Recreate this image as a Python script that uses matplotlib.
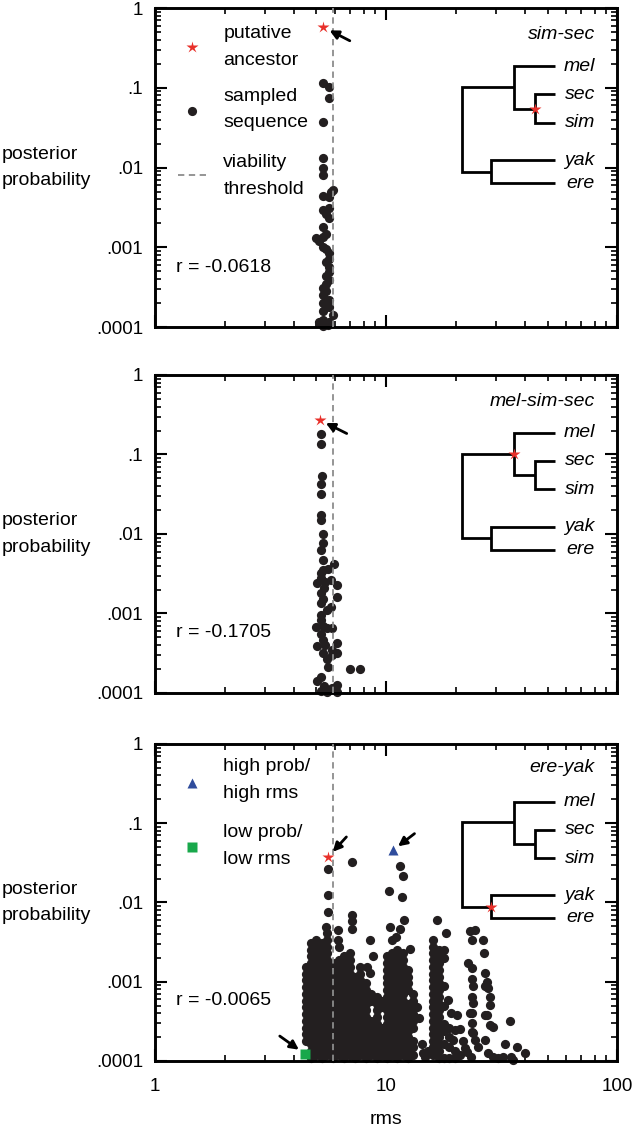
import matplotlib
matplotlib.use("Agg")
import matplotlib.pyplot as plt
import numpy as np
from matplotlib.ticker import NullFormatter

plt.rcParams["font.family"] = ["Liberation Sans", "DejaVu Sans"]

RED = "#e8302a"
BLUE = "#2f4c9c"
GREEN = "#18a84b"
DOT = "#231f20"
DASH = "#8c8c8c"

# labels
clades = ["sim-sec", "mel-sim-sec", "ere-yak"]
r_values = ["r = -0.0618", "r = -0.1705", "r = -0.0065"]
species = ["mel", "sec", "sim", "yak", "ere"]
y_ticks = [1e-4, 1e-3, 1e-2, 1e-1, 1]
y_tick_labels = [".0001", ".001", ".01", ".1", "1"]
x_ticks = [1, 10, 100]
x_tick_labels = ["1", "10", "100"]

viability_rms = 5.87

# putative ancestor of each clade (rms, posterior probability)
ancestor_rms = [5.32, 5.18, 5.61]
ancestor_p = [0.58, 0.27, 0.0375]

# highlighted ere-yak sequences
high_rms, high_p = 10.7, 0.0455
low_rms, low_p = 4.48, 1.21e-4

# sim-sec sampled sequences
simsec_rms = [
    5.32, 5.68, 5.68, 5.32, 5.32, 5.32, 5.32, 5.91,
    5.80, 5.32, 5.68, 5.32, 5.68, 5.68, 5.50, 5.32,
    4.98, 5.32, 5.15, 5.32, 5.50, 5.68, 5.68, 5.50,
    5.68, 5.68, 5.50, 5.68, 5.32, 5.50, 5.32, 5.68,
    5.32, 5.50, 5.68, 5.32, 5.91, 5.50, 5.32, 5.68,
    5.15, 5.32, 5.60,
]
simsec_p = [
    0.114, 0.101, 0.074, 0.037, 0.013, 0.0098, 0.0081, 0.0052,
    0.0050, 0.0044, 0.0043, 0.0029, 0.0031, 0.0023, 0.0026, 0.0018,
    0.0013, 0.00135, 0.0012, 0.00102, 0.00145, 0.00084, 0.00072, 0.00095,
    0.00057, 0.00049, 0.00065, 0.00039, 0.00031, 0.00044, 0.00025, 0.00022,
    0.0002, 0.00035, 0.00018, 0.00016, 0.00014, 0.00028, 0.000123, 0.000117,
    0.000117, 0.000103, 0.000105,
]

# mel-sim-sec sampled sequences
mss_rms = [
    5.22, 5.22, 5.27, 5.22, 5.22, 5.22, 5.22, 5.32,
    5.32, 5.22, 5.32, 5.96, 5.63, 5.22, 5.22, 5.76,
    5.01, 6.12, 5.39, 5.22, 6.16, 5.22, 5.76, 5.22,
    5.22, 4.98, 5.53, 5.82, 5.22, 6.16, 5.44, 5.01,
    6.16, 5.82, 5.53, 5.63, 6.98, 7.72, 5.22, 5.01,
    6.12, 5.39, 5.82, 5.22, 5.53, 6.16, 5.32, 5.44,
    5.32, 5.53, 5.32, 5.32, 5.82, 5.32,
]
mss_p = [
    0.181, 0.136, 0.054, 0.043, 0.032, 0.0173, 0.0152, 0.0099,
    0.0076, 0.0063, 0.0047, 0.0042, 0.0036, 0.0032, 0.0028, 0.0026,
    0.0024, 0.0023, 0.0021, 0.0018, 0.0016, 0.00134, 0.0012, 0.00096,
    0.00083, 0.00068, 0.00065, 0.00065, 0.00056, 0.00042, 0.0004, 0.00039,
    0.00032, 0.0003, 0.00027, 0.00021, 0.0002, 0.0002, 0.00016, 0.00014,
    0.000126, 0.000122, 0.000115, 0.000105, 0.000102, 0.000102, 0.0035, 0.0025,
    0.0015, 0.0011, 0.0007, 0.00046, 0.00035, 0.00032,
]

# ere-yak: the dense part of the cloud, read as vertical bands of overlapping
# dots (rms of the band, log10 posterior of the dots stacked in it)
band_rms = [4.50, 4.73, 4.98, 5.28, 5.57, 5.90, 6.23, 6.59, 6.97, 7.34, 7.73, 8.17,
            8.65, 9.13, 9.60, 10.1, 10.6, 11.2, 11.8, 12.4, 13.1, 16.0, 16.9]
band_logp = [
    [-3.75, -3.66, -3.58, -3.49, -3.41, -3.32, -3.24, -3.15, -3.07, -2.98, -2.90, -2.81],
    [-3.96, -3.87, -3.79, -3.70, -3.62, -3.53, -3.45, -3.36, -3.28, -3.19, -3.11, -3.02, -2.94, -2.85, -2.77, -2.68, -2.60],
    [-3.92, -3.83, -3.75, -3.66, -3.58, -3.49, -3.41, -3.32, -3.24, -3.15, -3.07, -2.98, -2.90, -2.81, -2.73, -2.64, -2.56],
    [-3.96, -3.87, -3.79, -3.70, -3.62, -3.53, -3.45, -3.36, -3.28, -3.19, -3.11, -3.02, -2.94, -2.85, -2.77, -2.68, -2.60, -2.51],
    [-3.92, -3.83, -3.75, -3.66, -3.58, -3.49, -3.41, -3.32, -3.24, -3.15, -3.07, -2.98, -2.90, -2.81, -2.73, -2.64, -2.56, -2.47, -2.39],
    [-3.96, -3.87, -3.79, -3.70, -3.62, -3.53, -3.45, -3.36, -3.28, -3.19, -3.11, -3.02, -2.94, -2.85, -2.77],
    [-3.92, -3.83, -3.75, -3.66, -3.58, -3.49, -3.41, -3.32, -3.24, -3.15, -3.07, -2.98, -2.90, -2.81, -2.73],
    [-3.96, -3.87, -3.79, -3.70, -3.62, -3.53, -3.45, -3.36, -3.28, -3.19, -3.11, -3.02, -2.94, -2.85, -2.77, -2.68],
    [-3.92, -3.83, -3.75, -3.66, -3.58, -3.49, -3.41, -3.32, -3.24, -3.15, -3.07, -2.98, -2.90, -2.81, -2.73, -2.64],
    [-3.96, -3.87, -3.79, -3.70, -3.62, -3.53, -3.45, -3.36, -3.28, -3.19, -3.11, -3.02, -2.94],
    [-3.92, -3.83, -3.75, -3.66, -3.58, -3.49, -3.41, -3.32, -3.24, -3.15, -3.07, -2.98, -2.90, -2.81],
    [-3.96, -3.87, -3.79, -3.70, -3.62, -3.53, -3.45, -3.36, -3.28, -3.19, -3.11, -3.02],
    [-3.92, -3.83, -3.75, -3.66, -3.58, -3.49, -3.24, -3.15],
    [-3.96, -3.87, -3.79, -3.70, -3.62, -3.53, -3.45, -3.36, -3.28, -3.19],
    [-3.92, -3.83, -3.75, -3.66, -3.58, -3.32, -3.24],
    [-3.96, -3.87, -3.79, -3.70, -3.62, -3.53, -3.45, -3.36, -3.28, -3.19, -3.11, -3.02, -2.94, -2.85, -2.77, -2.68],
    [-3.92, -3.83, -3.75, -3.66, -3.58, -3.49, -3.41, -3.32, -3.24, -3.15, -3.07, -2.98, -2.90, -2.81, -2.73, -2.64],
    [-3.96, -3.87, -3.79, -3.70, -3.62, -3.53, -3.45, -3.36, -3.28, -3.19, -3.11, -3.02, -2.94, -2.85, -2.77, -2.68, -2.60],
    [-3.92, -3.83, -3.75, -3.66, -3.58, -3.49, -3.41, -3.32, -3.24, -3.15, -3.07, -2.98, -2.90, -2.81, -2.73, -2.64],
    [-3.96, -3.87, -3.79, -3.70, -3.62, -3.53, -3.45, -3.36, -3.28, -3.11, -3.02, -2.94, -2.85],
    [-3.92, -3.83, -3.75, -3.58, -3.49, -3.41, -3.32, -3.24, -3.15],
    [-3.92, -3.83, -3.75, -3.66, -3.58, -3.49, -3.41, -3.32, -3.24, -3.15, -3.07, -2.98, -2.90, -2.81, -2.73, -2.64, -2.56, -2.47],
    [-3.96, -3.87, -3.79, -3.70, -3.62, -3.53, -3.45, -3.36, -3.28, -3.19, -3.11, -3.02, -2.94, -2.85, -2.77, -2.68, -2.60],
]

# ere-yak: dots that stand apart from the bands
ey_rms = [
    5.63, 5.63, 5.63, 5.50, 7.15, 7.13, 7.13, 7.13, 6.20, 6.20,
    6.25, 4.73, 5.00, 8.50, 8.30, 8.50, 8.80,
    10.3, 10.4, 10.6, 11.0, 11.5, 11.7, 12.0, 11.5, 11.9, 12.7,
    13.6, 13.9, 14.3, 14.5, 14.8, 15.2,
    16.6, 18.2, 17.8, 17.8, 17.8, 17.8, 17.8, 17.8, 17.8, 17.8,
    18.5, 19.2, 20.2, 19.9, 19.5, 18.8, 18.8, 18.8, 18.8, 19.8,
    19.8, 20.9, 21.5, 20.9, 22.0,
    23.1, 24.3, 23.5, 22.7, 23.5, 23.5, 23.8, 23.5, 23.8,
    23.5, 23.1, 23.5, 23.5, 23.8, 24.3, 22.4, 25.0, 23.3,
    26.4, 26.6, 26.8, 27.3, 27.7, 28.2, 28.2,
    27.3, 28.2, 29.1, 26.8, 26.8, 26.8, 27.5,
    30.6, 32.7, 34.4, 35.6, 36.8, 40.0, 29.1, 32.2, 34.9,
]
ey_logp = [
    -1.58, -1.91, -2.12, -2.31, -1.49, -2.16, -2.24, -2.33, -2.35, -2.47,
    -2.56, -2.51, -2.47, -2.47, -2.81, -2.89, -2.68,
    -1.86, -2.31, -2.47, -2.43, -2.33, -1.93, -2.22, -1.54, -1.67, -2.59,
    -3.32, -3.46, -3.78, -3.90, -3.95, -3.88,
    -2.22, -2.39, -2.60, -2.70, -3.06, -3.31, -3.53, -3.62, -3.79, -3.96,
    -3.23, -3.40, -3.42, -3.61, -3.73, -3.58, -3.70, -3.83, -3.96, -3.87,
    -3.96, -3.60, -3.75, -3.93, -3.84,
    -2.36, -2.35, -2.47, -2.77, -2.83, -2.96, -3.06, -3.19, -3.27,
    -3.40, -3.39, -3.52, -3.63, -3.65, -3.73, -3.89, -3.83, -3.95,
    -2.47, -2.64, -2.89, -3.00, -3.08, -3.19, -3.29,
    -3.42, -3.55, -3.57, -3.06, -3.42, -3.73, -3.90,
    -3.96, -3.78, -3.50, -3.99, -3.83, -3.90, -3.95, -3.95, -3.95,
]

# tree drawn in axes fractions
TX = dict(root=0.664, mel_node=0.776, ss_node=0.823, ye_node=0.727, tip=0.866, label=0.952)
TY = dict(mel=0.818, upper=0.753, ss=0.684, sec=0.730, sim=0.640, lower=0.487, yak=0.523, ere=0.451)
tree_star = [("ss_node", "ss"), ("mel_node", "upper"), ("ye_node", "lower")]


def draw_tree(ax, star):
    kw = dict(transform=ax.transAxes, color="black", lw=2.0, solid_joinstyle="miter",
              solid_capstyle="butt", clip_on=False, zorder=4)
    ax.plot([TX["mel_node"], TX["root"], TX["root"], TX["ye_node"]],
            [TY["upper"], TY["upper"], TY["lower"], TY["lower"]], **kw)
    ax.plot([TX["tip"], TX["mel_node"], TX["mel_node"], TX["ss_node"]],
            [TY["mel"], TY["mel"], TY["ss"], TY["ss"]], **kw)
    ax.plot([TX["tip"], TX["ss_node"], TX["ss_node"], TX["tip"]],
            [TY["sec"], TY["sec"], TY["sim"], TY["sim"]], **kw)
    ax.plot([TX["tip"], TX["ye_node"], TX["ye_node"], TX["tip"]],
            [TY["yak"], TY["yak"], TY["ere"], TY["ere"]], **kw)
    for name in species:
        ax.text(TX["label"], TY[name], name, transform=ax.transAxes, ha="right",
                va="center", fontsize=14, style="italic")
    sx, sy = star
    ax.plot(TX[sx], TY[sy], marker="*", ms=9, color=RED, mec="none",
            transform=ax.transAxes, zorder=6)


def style_axes(ax, show_x):
    ax.set_xscale("log")
    ax.set_yscale("log")
    ax.set_xlim(1, 100)
    ax.set_ylim(1e-4, 1)
    ax.set_yticks(y_ticks)
    ax.set_yticklabels(y_tick_labels)
    ax.set_xticks(x_ticks)
    ax.set_xticklabels(x_tick_labels if show_x else [])
    ax.xaxis.set_minor_formatter(NullFormatter())
    ax.yaxis.set_minor_formatter(NullFormatter())
    ax.tick_params(which="both", direction="in", top=True, right=True, labelsize=13.5)
    ax.tick_params(which="major", length=8.5, width=1.5)
    ax.tick_params(which="minor", length=4.3, width=1.2)
    ax.tick_params(axis="y", pad=8.5)
    ax.tick_params(axis="x", pad=12)
    for sp in ax.spines.values():
        sp.set_linewidth(2.1)


def arrow(ax, x, y, dx, dy, shrink):
    ax.annotate("", xy=(x, y), xytext=(dx, dy), textcoords="offset points",
                arrowprops=dict(arrowstyle="-|>", color="black", lw=2.0,
                                mutation_scale=13, shrinkA=0, shrinkB=shrink),
                zorder=7)


fig = plt.figure(figsize=(6.33, 11.27), dpi=100)
rects = [[0.2449, 0.7098, 0.7299, 0.2831],
         [0.2449, 0.3851, 0.7299, 0.2822],
         [0.2449, 0.0586, 0.7299, 0.2813]]
axes = [fig.add_axes(r) for r in rects]

band_x = np.concatenate([[r] * len(v) for r, v in zip(band_rms, band_logp)])
band_y = 10.0 ** np.concatenate(band_logp)
ere_yak_rms = np.concatenate([band_x, ey_rms])
ere_yak_p = np.concatenate([band_y, 10.0 ** np.array(ey_logp)])

samples = [(simsec_rms, simsec_p), (mss_rms, mss_p), (ere_yak_rms, ere_yak_p)]

for i, ax in enumerate(axes):
    style_axes(ax, show_x=(i == 2))
    xs, ps = samples[i]
    ax.scatter(xs, ps, s=44, color=DOT, linewidths=0, zorder=2, clip_on=False)
    ax.axvline(viability_rms, color=DASH, lw=1.3, ls=(0, (3.5, 2.5)), zorder=3)
    ax.plot(ancestor_rms[i], ancestor_p[i], marker="*", ms=9, color=RED, mec="none", zorder=6)
    ax.text(0.952, [0.918, 0.916, 0.927][i], clades[i], transform=ax.transAxes,
            ha="right", va="center", fontsize=14, style="italic")
    ax.text(0.0455, [0.188, 0.189, 0.192][i], r_values[i], transform=ax.transAxes,
            ha="left", va="center", fontsize=14)
    draw_tree(ax, tree_star[i])
    pos = ax.get_position()
    fig.text(0.002, pos.y0 + pos.height / 2, "posterior\nprobability", ha="left",
             va="center", fontsize=14, linespacing=1.75)

# legends
ax = axes[0]
leg_kw = dict(transform=ax.transAxes, ha="left", va="center", fontsize=14, linespacing=1.75)
ax.plot(0.0794, 0.878, marker="*", ms=9, color=RED, mec="none", transform=ax.transAxes)
ax.text(0.148, 0.878, "putative\nancestor", **leg_kw)
ax.plot(0.0794, 0.677, marker="o", ms=6.6, color=DOT, mec="none", transform=ax.transAxes)
ax.text(0.148, 0.682, "sampled\nsequence", **leg_kw)
ax.plot([0.0487, 0.1126], [0.476, 0.476], color=DASH, lw=1.3, ls=(0, (3.5, 2.5)),
        transform=ax.transAxes)
ax.text(0.148, 0.473, "viability\nthreshold", **leg_kw)

ax = axes[2]
leg_kw["transform"] = ax.transAxes
ax.plot(0.0807, 0.878, marker="^", ms=7.5, color=BLUE, mec="none", transform=ax.transAxes)
ax.text(0.148, 0.886, "high prob/\nhigh rms", **leg_kw)
ax.plot(0.0807, 0.676, marker="s", ms=6.5, color=GREEN, mec="none", transform=ax.transAxes)
ax.text(0.148, 0.677, "low prob/\nlow rms", **leg_kw)
ax.plot(high_rms, high_p, marker="^", ms=7.5, color=BLUE, mec="none", zorder=6)
ax.plot(low_rms, low_p, marker="s", ms=7, color=GREEN, mec="none", zorder=6, clip_on=False)

# arrows pointing at the highlighted sequences
arrow(axes[0], ancestor_rms[0], ancestor_p[0], 19.5, -10, 5.5)
arrow(axes[1], ancestor_rms[1], ancestor_p[1], 19.2, -9.6, 4.6)
arrow(axes[2], ancestor_rms[2], ancestor_p[2], 13.2, 14.4, 5)
arrow(axes[2], high_rms, high_p, 15.6, 12, 4.7)
arrow(axes[2], low_rms, low_p, -18.5, 13.2, 5.8)

pos = axes[2].get_position()
fig.text(pos.x0 + pos.width / 2, 0.003, "rms", ha="center", va="baseline", fontsize=14)

fig.savefig("out.png", dpi=100)
